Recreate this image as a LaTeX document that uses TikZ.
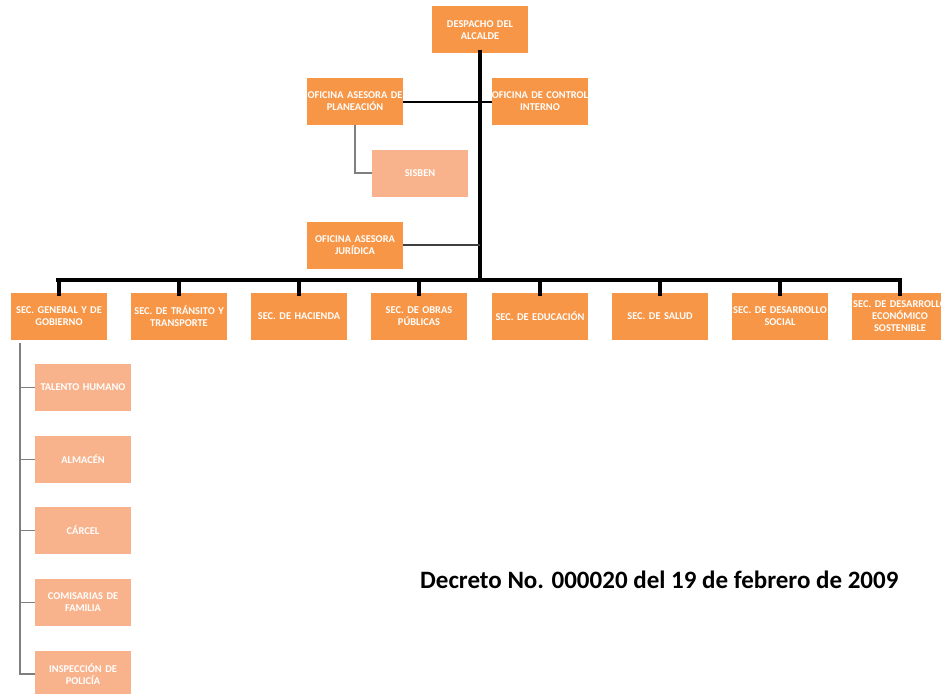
\documentclass[tikz,border=0pt]{standalone}
\usepackage{fontspec}
\setmainfont{Carlito}
\definecolor{orgA}{HTML}{F79646}
\definecolor{orgB}{HTML}{F9B38C}
\definecolor{lnGray}{HTML}{7F7F7F}
\definecolor{lnDark}{HTML}{3F3F3F}
\newcommand{\bxl}[1]{\makebox[0pt]{#1}}
\begin{document}
\begin{tikzpicture}[x=1pt,y=-1pt,
  box/.style={fill=orgA, draw=none, minimum width=96pt, minimum height=47pt,
    text width=92pt, align=center, inner sep=0pt, text=white,
    font=\fontsize{10.4}{12}\selectfont\bfseries},
  lbox/.style={box, fill=orgB},
  trunk/.style={line width=3.2pt, black},
  blk/.style={line width=2pt, black},
  dk/.style={line width=1.6pt, lnDark},
  gr/.style={line width=1.5pt, lnGray}]
\useasboundingbox (0,0) rectangle (941,693);
\fill[white] (0,0) rectangle (941,693);

\node[box] (desp) at (480,30) {\bxl{DESPACHO DEL}\\\bxl{ALCALDE}};
\node[box] (plan) at (355,101.5) {\bxl{OFICINA ASESORA DE}\\\bxl{PLANEACIÓN}};
\node[box] (ctrl) at (540,101.5) {\bxl{OFICINA DE CONTROL}\\\bxl{INTERNO}};
\node[lbox] (sisb) at (420,173) {\bxl{SISBEN}};
\node[box] (jur) at (355,245) {\bxl{OFICINA ASESORA}\\\bxl{JURÍDICA}};

\node[box] (s1) at (59,316.5) {\bxl{SEC. GENERAL Y DE}\\\bxl{GOBIERNO}};
\node[box] (s2) at (179,316.5) {\bxl{SEC. DE TRÁNSITO Y}\\\bxl{TRANSPORTE}};
\node[box] (s3) at (299,316.5) {\bxl{SEC. DE HACIENDA}};
\node[box] (s4) at (419,316.5) {\bxl{SEC. DE OBRAS}\\\bxl{PÚBLICAS}};
\node[box] (s5) at (540,316.5) {\bxl{SEC. DE EDUCACIÓN}};
\node[box] (s6) at (660,316.5) {\bxl{SEC. DE SALUD}};
\node[box] (s7) at (780,316.5) {\bxl{SEC. DE DESARROLLO}\\\bxl{SOCIAL}};
\node[box] (s8) at (900,316.5) {\bxl{SEC. DE DESARROLLO}\\\bxl{ECONÓMICO}\\\bxl{SOSTENIBLE}};

\node[lbox] (g1) at (83,387.5) {\bxl{TALENTO HUMANO}};
\node[lbox] (g2) at (83,459.5) {\bxl{ALMACÉN}};
\node[lbox] (g3) at (83,530.5) {\bxl{CÁRCEL}};
\node[lbox] (g4) at (83,602.5) {\bxl{COMISARIAS DE}\\\bxl{FAMILIA}};
\node[lbox] (g5) at (83,674) {\bxl{INSPECCIÓN DE}\\\bxl{POLICÍA}};

\node[font=\fontsize{25}{30}\selectfont\bfseries, anchor=west, inner sep=0pt] (dec) at (420,580)
  {Decreto No. 000020 del 19 de febrero de 2009};

% trunk and bus
\coordinate (busL) at (58,280);
\coordinate (busR) at (900,280);
\coordinate (busM) at (480,280);
\draw[trunk] ([yshift=4pt]desp.south) -- (busM);
\draw[trunk, line cap=rect] (busL) -- (busR);
\foreach \n in {s1,s2,s3,s4,s5,s6,s7,s8}
  \draw[trunk] (\n.north |- busL) -- ([yshift=-3pt]\n.north);

% staff offices
\draw[blk] (plan.east) -- (ctrl.west);
\draw[dk] (jur.east) -- (jur.east -| busM);
\draw[gr] (plan.south) |- (sisb.west);

% left column
\coordinate (colT) at (20,343);
\draw[gr] ([yshift=-3pt]s1.south -| colT) |- (g5.west);
\foreach \n in {g1,g2,g3,g4}
  \draw[gr] (colT |- \n.west) -- (\n.west);
\end{tikzpicture}
\end{document}
